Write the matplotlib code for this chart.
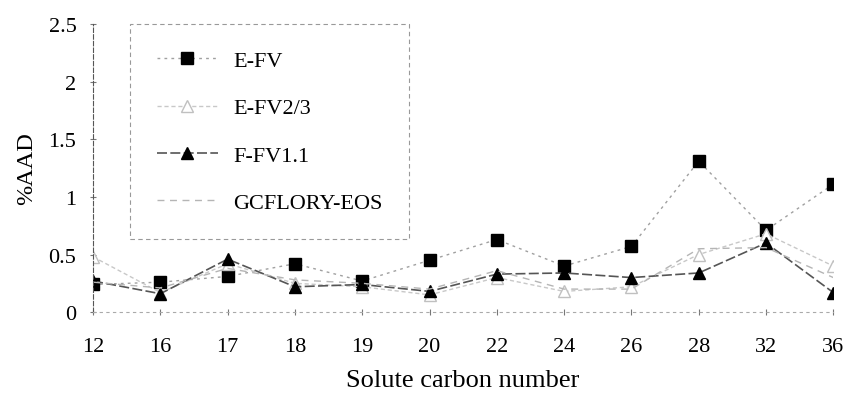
import matplotlib.pyplot as plt

plt.rcParams['font.family'] = ['Liberation Serif', 'DejaVu Serif']

carbon = ['12', '16', '17', '18', '19', '20', '22', '24', '26', '28', '32', '36']
efv = [0.24, 0.26, 0.31, 0.42, 0.27, 0.45, 0.63, 0.40, 0.57, 1.31, 0.71, 1.11]
efv23 = [0.48, 0.17, 0.42, 0.25, 0.22, 0.15, 0.30, 0.18, 0.22, 0.50, 0.68, 0.40]
efv11 = [0.27, 0.16, 0.46, 0.22, 0.24, 0.18, 0.33, 0.34, 0.30, 0.34, 0.60, 0.17]
gcflory = [0.26, 0.21, 0.38, 0.28, 0.25, 0.20, 0.36, 0.20, 0.20, 0.55, 0.56, 0.30]

fig = plt.figure(figsize=(8.46, 4.02), dpi=100)
ax = fig.add_axes([0.110, 0.221, 0.875, 0.717])

x = range(len(carbon))
ax.plot(x, efv, color='#a0a0a0', linestyle=(0, (2, 3)), linewidth=1,
        marker='s', markersize=8, markerfacecolor='black', markeredgecolor='black', label='E-FV')
ax.plot(x, efv23, color='#c8c8c8', linestyle=(0, (3, 2)), linewidth=1,
        marker='^', markersize=8, markerfacecolor='white', markeredgecolor='#c0c0c0', label='E-FV2/3')
ax.plot(x, efv11, color='#555555', linestyle=(0, (6, 2)), linewidth=1.2,
        marker='^', markersize=8, markerfacecolor='black', markeredgecolor='black', label='F-FV1.1')
ax.plot(x, gcflory, color='#b5b5b5', linestyle=(0, (5, 4)), linewidth=1,
        label='GCFLORY-EOS')

ax.set_xlim(0, len(carbon) - 1)
ax.set_ylim(0, 2.5)
ax.set_xticks(list(x))
ax.set_xticklabels(carbon)
ax.set_yticks([0, 0.5, 1, 1.5, 2, 2.5])
ax.set_yticklabels(['0', '0.5', '1', '1.5', '2', '2.5'])
ax.tick_params(labelsize=16, length=4, width=0.8, color='#777777', direction='inout')
ax.tick_params(axis='x', pad=16)
ax.tick_params(axis='y', pad=10)

for s in ['top', 'right']:
    ax.spines[s].set_visible(False)
ax.spines['left'].set_color('#555555')
ax.spines['left'].set_linestyle((0, (4, 2)))
ax.spines['bottom'].set_color('#aaaaaa')
ax.spines['bottom'].set_linestyle((0, (2, 4)))

ax.set_ylabel('%AAD', fontsize=17.5, labelpad=8)
ax.set_xlabel('Solute carbon number', fontsize=19, labelpad=9)

leg = ax.legend(loc='upper left', bbox_to_anchor=(0.05, 1.0), borderaxespad=0,
                fontsize=16, handlelength=2.75, handletextpad=0.7, borderpad=1.2,
                labelspacing=1.2, fancybox=False, framealpha=1)
leg.get_frame().set_edgecolor('#999999')
leg.get_frame().set_linestyle((0, (4, 3)))
leg.get_frame().set_linewidth(0.8)

fig.savefig('out.png', dpi=100)
